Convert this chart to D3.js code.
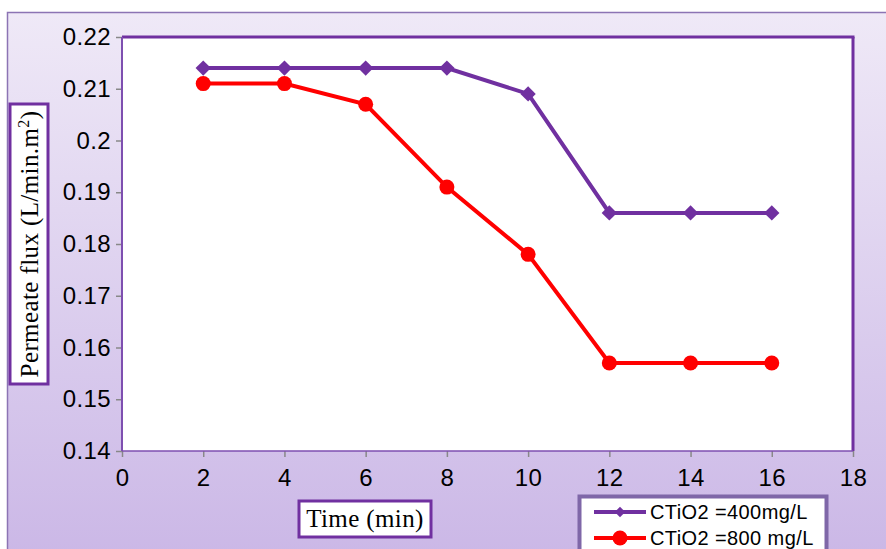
<!DOCTYPE html>
<html>
<head>
<meta charset="utf-8">
<script src="https://cdn.jsdelivr.net/npm/d3@7"></script>
<style>
  body { margin: 0; background: #fff; }
  svg { display: block; }
</style>
</head>
<body>
<svg id="chart" width="886" height="549"></svg>
<script>
// data
var times = [2, 4, 6, 8, 10, 12, 14, 16]
var flux400 = [0.214, 0.214, 0.214, 0.214, 0.209, 0.186, 0.186, 0.186]
var flux800 = [0.211, 0.211, 0.207, 0.191, 0.178, 0.157, 0.157, 0.157]
var xTicks = [0, 2, 4, 6, 8, 10, 12, 14, 16, 18]
var yTicks = [0.14, 0.15, 0.16, 0.17, 0.18, 0.19, 0.2, 0.21, 0.22]
var seriesNames = ["CTiO2 =400mg/L", "CTiO2 =800 mg/L"]

var svg = d3.select('#chart')
var plotLeft = 122, plotRight = 853, plotTop = 37, plotBottom = 451

// background gradient
var defs = svg.append('defs')
var grad = defs.append('linearGradient').attr('id', 'bg')
    .attr('x1', 0).attr('y1', 0).attr('x2', 0).attr('y2', 1)
grad.append('stop').attr('offset', '0%').attr('stop-color', '#efe9f7')
grad.append('stop').attr('offset', '100%').attr('stop-color', '#cab6e6')

svg.append('rect')
    .attr('x', 7.5).attr('y', 12.5)
    .attr('width', 900).attr('height', 560)
    .attr('fill', 'url(#bg)')
    .attr('stroke', '#8c74b4')
    .attr('stroke-width', 1.5)

var x = d3.scaleLinear().domain([0, 18]).range([plotLeft, plotRight])
var y = d3.scaleLinear().domain([0.14, 0.22]).range([plotBottom, plotTop])

// plot area
svg.append('rect')
    .attr('x', plotLeft).attr('y', plotTop)
    .attr('width', plotRight - plotLeft).attr('height', plotBottom - plotTop)
    .attr('fill', '#fff')

// axes
svg.append('g')
    .attr('transform', 'translate(0,' + plotBottom + ')')
    .call(d3.axisBottom(x).tickValues(xTicks).tickSize(6).tickSizeOuter(0).tickPadding(12))
svg.append('g')
    .attr('transform', 'translate(' + plotLeft + ',0)')
    .call(d3.axisLeft(y).tickValues(yTicks).tickSize(6).tickSizeOuter(0).tickPadding(5)
        .tickFormat(function (d) { return String(+d.toFixed(2)) }))

svg.selectAll('.domain').remove()
svg.selectAll('.tick line').attr('stroke', '#888').attr('stroke-width', 1.5)
svg.selectAll('.tick text')
    .attr('fill', '#000')
    .style('font-family', 'Liberation Sans, Arial, sans-serif')
    .style('font-size', '24px')
    .style('letter-spacing', '0.4px')

// plot border: thicker top/right, thinner left/bottom
svg.append('line').attr('x1', plotLeft).attr('x2', plotRight + 1.5).attr('y1', plotTop).attr('y2', plotTop)
    .attr('stroke', '#7030a0').attr('stroke-width', 3)
svg.append('line').attr('x1', plotRight).attr('x2', plotRight).attr('y1', plotTop).attr('y2', plotBottom)
    .attr('stroke', '#7030a0').attr('stroke-width', 3)
svg.append('line').attr('x1', plotLeft).attr('x2', plotLeft).attr('y1', plotTop).attr('y2', plotBottom)
    .attr('stroke', '#7e4fb0').attr('stroke-width', 2)
svg.append('line').attr('x1', plotLeft).attr('x2', plotRight).attr('y1', plotBottom).attr('y2', plotBottom)
    .attr('stroke', '#7e4fb0').attr('stroke-width', 1.5)

var line = d3.line()
    .x(function (d, i) { return x(times[i]) })
    .y(function (d) { return y(d) })

// 400 mg/L series
svg.append('path').datum(flux400)
    .attr('fill', 'none').attr('stroke', '#7030a0').attr('stroke-width', 4)
    .attr('d', line)
svg.selectAll('.dia').data(flux400).enter().append('path')
    .attr('class', 'dia')
    .attr('fill', '#7030a0')
    .attr('d', d3.symbol().type(d3.symbolDiamond2).size(150))
    .attr('transform', function (d, i) { return 'translate(' + x(times[i]) + ',' + y(d) + ')' })

// 800 mg/L series
svg.append('path').datum(flux800)
    .attr('fill', 'none').attr('stroke', '#ff0000').attr('stroke-width', 4)
    .attr('d', line)
svg.selectAll('.dot').data(flux800).enter().append('circle')
    .attr('class', 'dot')
    .attr('fill', '#ff0000')
    .attr('r', 7.5)
    .attr('cx', function (d, i) { return x(times[i]) })
    .attr('cy', function (d) { return y(d) })

// y axis title box
svg.append('rect')
    .attr('x', 10).attr('y', 104).attr('width', 38).attr('height', 280)
    .attr('fill', '#fff').attr('stroke', '#7030a0').attr('stroke-width', 3)
var yt = svg.append('text')
    .attr('transform', 'translate(38,244) rotate(-90)')
    .attr('text-anchor', 'middle')
    .style('font-family', 'Liberation Serif, Times New Roman, serif')
    .style('font-size', '25px')
    .style('letter-spacing', '0.4px')
yt.append('tspan').text('Permeate flux (L/min.m')
yt.append('tspan').text('2').attr('dy', -9).style('font-size', '16px')
yt.append('tspan').text(')').attr('dy', 9)

// x axis title box
svg.append('rect')
    .attr('x', 299).attr('y', 501).attr('width', 132).attr('height', 36)
    .attr('fill', '#fff').attr('stroke', '#7030a0').attr('stroke-width', 3)
svg.append('text')
    .attr('x', 365).attr('y', 527)
    .attr('text-anchor', 'middle')
    .style('font-family', 'Liberation Serif, Times New Roman, serif')
    .style('font-size', '25px')
    .style('letter-spacing', '0.4px')
    .text('Time (min)')

// legend
svg.append('rect')
    .attr('x', 579.5).attr('y', 496.5).attr('width', 247).attr('height', 70)
    .attr('fill', '#fff').attr('stroke', '#7f67a8').attr('stroke-width', 4)
var legend = svg.append('g')
var legendY = [512, 538]
var legendColors = ['#7030a0', '#ff0000']
legendY.forEach(function (ly, i) {
    legend.append('line')
        .attr('x1', 594).attr('x2', 646).attr('y1', ly).attr('y2', ly)
        .attr('stroke', legendColors[i]).attr('stroke-width', 4)
    if (i === 0) {
        legend.append('path')
            .attr('fill', legendColors[i])
            .attr('d', d3.symbol().type(d3.symbolDiamond2).size(70))
            .attr('transform', 'translate(620,' + ly + ')')
    } else {
        legend.append('circle')
            .attr('fill', legendColors[i]).attr('r', 7.5)
            .attr('cx', 620).attr('cy', ly)
    }
    legend.append('text')
        .attr('x', 650).attr('y', ly + 7)
        .style('font-family', 'Liberation Sans, Arial, sans-serif')
        .style('font-size', '20px')
        .style('letter-spacing', '0.4px')
        .text(seriesNames[i])
})
</script>
</body>
</html>
